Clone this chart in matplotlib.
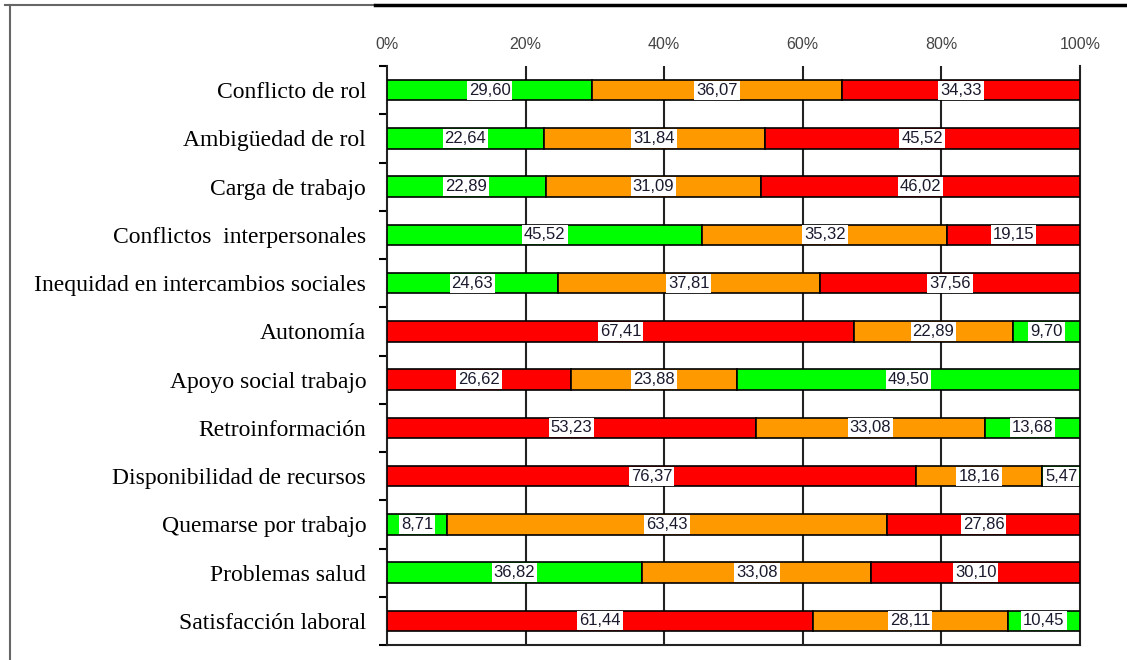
import numpy as np
import matplotlib
matplotlib.use('Agg')
import matplotlib.pyplot as plt
from matplotlib.lines import Line2D

# ======================== 数据 ==========================
categorias = ['Conflicto de rol', 'Ambigüedad de rol', 'Carga de trabajo',
              'Conflictos  interpersonales', 'Inequidad en intercambios sociales',
              'Autonomía', 'Apoyo social trabajo', 'Retroinformación',
              'Disponibilidad de recursos', 'Quemarse por trabajo',
              'Problemas salud', 'Satisfacción laboral']
verde = [29.60, 22.64, 22.89, 45.52, 24.63, 9.70, 49.50, 13.68, 5.47, 8.71, 36.82, 10.45]
naranja = [36.07, 31.84, 31.09, 35.32, 37.81, 22.89, 23.88, 33.08, 18.16, 63.43, 33.08, 28.11]
rojo = [34.33, 45.52, 46.02, 19.15, 37.56, 67.41, 26.62, 53.23, 76.37, 27.86, 30.10, 61.44]
# True -> el rojo va primero (escala invertida)
invertido = [False, False, False, False, False, True, True, True, True, False, False, True]
xticks = [0, 20, 40, 60, 80, 100]
xticklabels = ['0%', '20%', '40%', '60%', '80%', '100%']

C_VERDE = '#00FF00'
C_NARANJA = '#FF9900'
C_ROJO = '#FF0000'

# ======================== figura ==========================
fig = plt.figure(figsize=(11.27, 6.6), dpi=100, facecolor='white')
ax = fig.add_axes([387/1127, 1 - 645/660, (1080 - 387)/1127, (645 - 66)/660])

y = np.arange(len(categorias))
for i in range(len(categorias)):
    if invertido[i]:
        segs = [(rojo[i], C_ROJO), (naranja[i], C_NARANJA), (verde[i], C_VERDE)]
    else:
        segs = [(verde[i], C_VERDE), (naranja[i], C_NARANJA), (rojo[i], C_ROJO)]
    izq = 0
    for val, col in segs:
        ax.barh(y[i], val, left=izq, height=0.42, color=col,
                edgecolor='black', linewidth=1.2, zorder=3)
        ax.text(izq + val/2, y[i], f'{val:.2f}'.replace('.', ','),
                ha='center', va='center', fontsize=12,
                fontfamily='Liberation Sans', color='#1a1a2e', zorder=4,
                bbox=dict(facecolor='white', edgecolor='none', pad=1.5))
        izq += val

ax.set_xlim(0, 100)
ax.set_ylim(len(categorias) - 0.5, -0.5)

# grid vertical sólido
for xv in xticks[1:-1]:
    ax.axvline(xv, color='#222222', linewidth=1.5, zorder=1)

ax.xaxis.tick_top()
ax.set_xticks(xticks)
ax.set_xticklabels(xticklabels, fontsize=11.5, fontfamily='Liberation Sans', color='#444444')
ax.tick_params(axis='x', length=0, pad=10)

ax.set_yticks(y)
ax.set_yticklabels(categorias, fontsize=17, fontfamily='Liberation Serif')
ax.tick_params(axis='y', which='major', length=0, pad=15)
ax.set_yticks(np.arange(-0.5, len(categorias)), minor=True)
ax.tick_params(axis='y', which='minor', length=6, width=1.5, direction='out')

for lado in ['left', 'right', 'bottom']:
    ax.spines[lado].set_linewidth(1.5)
    ax.spines[lado].set_color('#222222')
ax.spines['top'].set_visible(False)

# marco de la figura
fig.add_artist(Line2D([10/1127, 10/1127], [0, 1 - 5/660], color='#666666', linewidth=1.5))
fig.add_artist(Line2D([5/1127, 375/1127], [1 - 5/660, 1 - 5/660], color='#666666', linewidth=1.5))
fig.add_artist(Line2D([375/1127, 1], [1 - 5/660, 1 - 5/660], color='black', linewidth=2.5))

fig.savefig('out.png', dpi=100, facecolor='white')
